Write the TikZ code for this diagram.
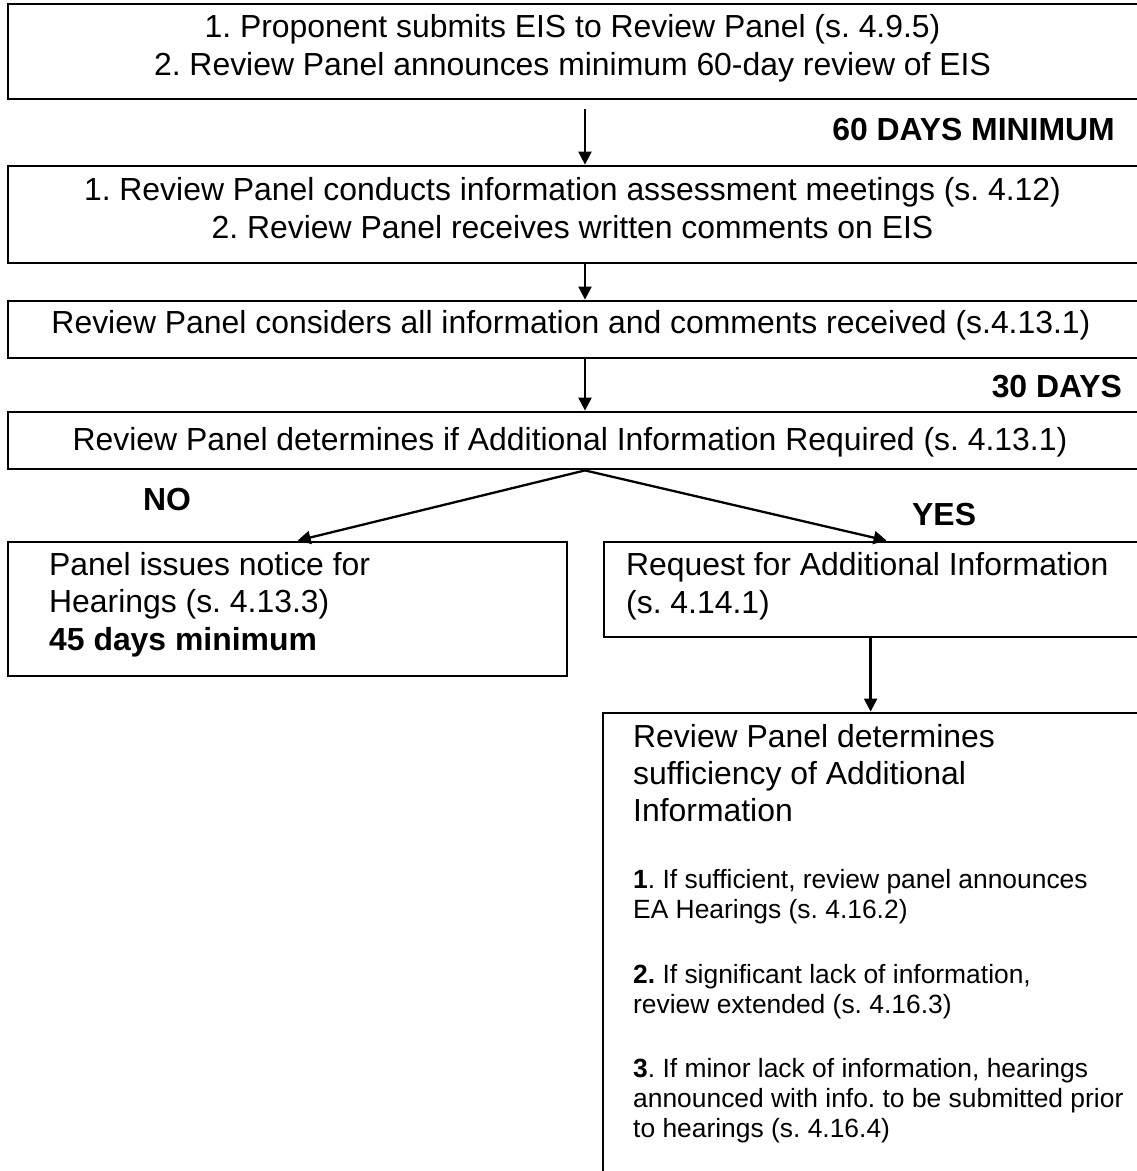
\documentclass[tikz,border=0pt]{standalone}
\usepackage{fontspec}
\setmainfont{Liberation Sans}
\frenchspacing
\usetikzlibrary{arrows.meta,calc}
\tikzset{
  box/.style={draw,rectangle,line width=2.8pt,inner sep=0pt},
  arr/.style={-{Triangle[length=13pt,width=13pt]},line width=2.3pt},
  mtext/.style={inner sep=0pt,font=\fontsize{31.9}{36.7}\selectfont},
  btext/.style={inner sep=0pt,font=\fontsize{31.9}{36.7}\selectfont\bfseries},
  stext/.style={inner sep=0pt,anchor=base west,font=\fontsize{26.4}{30.4}\selectfont},
}
\begin{document}
\begin{tikzpicture}[x=1pt,y=-1pt]
\useasboundingbox (0,0) rectangle (1137,1171);
\clip (0,0) rectangle (1137,1171);
\coordinate (S) at (585,0);
\node[box,minimum width=1130pt,minimum height=95pt] (Submit) at (573,51.5) {};
\node[box,minimum width=1130pt,minimum height=97pt] (Meetings) at (573,214.5) {};
\node[box,minimum width=1130pt,minimum height=57pt] (Consider) at (573,329.5) {};
\node[box,minimum width=1130pt,minimum height=57pt] (Decide) at (573,440.5) {};
\node[box,minimum width=559pt,minimum height=134pt] (Hearings) at (287.5,609) {};
\node[box,minimum width=546pt,minimum height=95pt] (Request) at (877,589.5) {};
\node[box,minimum width=547pt,minimum height=477pt] (Sufficiency) at (876.5,951.5) {};
\draw[arr,shorten <=9pt] (Submit.south -| S) -- (Meetings.north -| S);
\draw[arr] (Meetings.south -| S) -- (Consider.north -| S);
\draw[arr] (Consider.south -| S) -- (Decide.north -| S);
\draw[arr] (Decide.south -| S) -- ([xshift=291pt]Hearings.north west);
\draw[arr] (Decide.south -| S) -- ([xshift=284pt]Request.north west);
\draw[arr] ([xshift=268pt]Request.south west) -- ([xshift=269pt]Sufficiency.north west);
\foreach \y/\t [count=\i] in {37/{1. Proponent submits EIS to Review Panel (s. 4.9.5)},75/{2. Review Panel announces minimum 60-day review of EIS}}
  \node[mtext,anchor=base] (Submit-\i) at (572.5,\y) {\t};
\foreach \y/\t [count=\i] in {200/{1. Review Panel conducts information assessment meetings (s. 4.12)},238/{2. Review Panel receives written comments on EIS}}
  \node[mtext,anchor=base] (Meetings-\i) at (572.5,\y) {\t};
\node[mtext,anchor=base] (Consider-1) at (571,333) {Review Panel considers all information and comments received (s.4.13.1)};
\node[mtext,anchor=base] (Decide-1) at (570,450) {Review Panel determines if Additional Information Required (s. 4.13.1)};
\node[btext,anchor=base east] (Days60) at (1115,140) {60 DAYS MINIMUM};
\node[btext,anchor=base east] (Days30) at (1122,397) {30 DAYS};
\node[btext,anchor=base west] (No) at (143,510) {NO};
\node[btext,anchor=base west] (Yes) at (912,525) {YES};
\foreach \y/\t [count=\i] in {575/{Panel issues notice for},612/{Hearings (s. 4.13.3)},650/{\textbf{45 days minimum}}}
  \node[mtext,anchor=base west] (Hearings-\i) at (49,\y) {\t};
\foreach \y/\t [count=\i] in {575/{Request for Additional Information},613/{(s. 4.14.1)}}
  \node[mtext,anchor=base west] (Request-\i) at (626,\y) {\t};
\foreach \y/\t [count=\i] in {747/{Review Panel determines},784/{sufficiency of Additional},821/{Information}}
  \node[mtext,anchor=base west] (Sufficiency-\i) at (633,\y) {\t};
\foreach \y/\t [count=\i] in {888/{\textbf{1}. If sufficient, review panel announces},918/{EA Hearings (s. 4.16.2)},983/{\textbf{2.} If significant lack of information,},1013/{review extended (s. 4.16.3)},1077/{\textbf{3}. If minor lack of information, hearings},1107/{announced with info. to be submitted prior},1137/{to hearings (s. 4.16.4)}}
  \node[stext] (Item-\i) at (633,\y) {\t};
\end{tikzpicture}
\end{document}
